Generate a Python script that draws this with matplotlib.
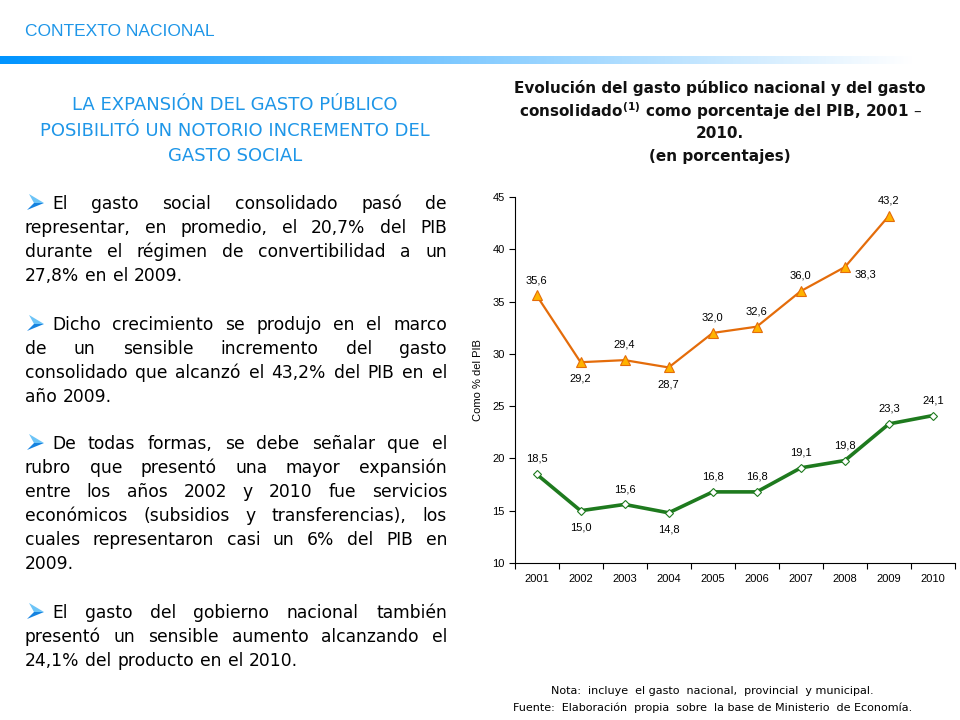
import matplotlib
matplotlib.use("Agg")
import matplotlib.pyplot as plt
from matplotlib.patches import Polygon
import numpy as np

# datos
years = ["2001", "2002", "2003", "2004", "2005", "2006", "2007", "2008", "2009", "2010"]
consolidado = [35.6, 29.2, 29.4, 28.7, 32.0, 32.6, 36.0, 38.3, 43.2]
nacional = [18.5, 15.0, 15.6, 14.8, 16.8, 16.8, 19.1, 19.8, 23.3, 24.1]
yticks = [10, 15, 20, 25, 30, 35, 40, 45]

# donde va cada etiqueta
pos_cons = ["up", "down", "up", "down", "up", "up", "up", "right", "up"]
pos_nac = ["up", "down", "up", "down", "up", "up", "up", "up", "up", "up"]

titulo = ["LA EXPANSIÓN DEL GASTO PÚBLICO",
          "POSIBILITÓ UN NOTORIO INCREMENTO DEL",
          "GASTO SOCIAL"]

parrafos = [
    ["El gasto social consolidado pasó de",
     "representar, en promedio, el 20,7% del PIB",
     "durante el régimen de convertibilidad a un",
     "27,8% en el 2009."],
    ["Dicho crecimiento se produjo en el marco",
     "de un sensible incremento del gasto",
     "consolidado que alcanzó el 43,2% del PIB en el",
     "año 2009."],
    ["De todas formas, se debe señalar que el",
     "rubro que presentó una mayor expansión",
     "entre los años 2002 y 2010 fue servicios",
     "económicos (subsidios y transferencias), los",
     "cuales representaron casi un 6% del PIB en",
     "2009."],
    ["El gasto del gobierno nacional también",
     "presentó un sensible aumento alcanzando el",
     "24,1% del producto en el 2010."],
]
y_parrafos = [204, 325, 444, 613]

W, H = 960, 720
fuente = ["DejaVu Sans"]
azul = "#1E96E8"

fig = plt.figure(figsize=(9.6, 7.2), dpi=100)

def fx(x):
    return x / W

def fy(y):
    return 1 - y / H

def pt(x, y):
    return (fx(x), fy(y))

# encabezado
fig.text(fx(25), fy(32), "CONTEXTO NACIONAL", color=azul, fontsize=12.5,
         family=["Liberation Sans"], va="center", ha="left")

# barra degradada
axbar = fig.add_axes([0, fy(64), 1, 8 / H])
t = np.clip(np.linspace(0, 1, 960) / 0.95, 0, 1)
c0 = np.array([0.0, 0.58, 1.0])
grad = c0[None, :] * (1 - t[:, None]) + t[:, None]
axbar.imshow(grad[None, :, :], aspect="auto", extent=[0, 1, 0, 1])
axbar.axis("off")

# titulo izquierdo
for i, linea in enumerate(titulo):
    fig.text(fx(235), fy(105 + i * 25.5), linea, color=azul, fontsize=13,
             family=fuente, ha="center", va="center")

# texto justificado
renderer = fig.canvas.get_renderer()
x_izq, x_der, paso = 25, 447, 24
for par, y0 in zip(parrafos, y_parrafos):
    # flecha (vineta)
    yc = y0 - 1
    fig.patches.append(Polygon([pt(29, yc - 9), pt(44, yc), pt(34, yc)],
                               closed=True, transform=fig.transFigure,
                               facecolor="#6CC4F7", edgecolor="none"))
    fig.patches.append(Polygon([pt(34, yc), pt(44, yc), pt(27, yc + 7)],
                               closed=True, transform=fig.transFigure,
                               facecolor="#1683E0", edgecolor="none"))
    for j, linea in enumerate(par):
        y = y0 + j * paso
        x_ini = 52 if j == 0 else x_izq
        palabras = linea.split()
        textos = [fig.text(0, fy(y), p, fontsize=12.3, family=fuente, va="center",
                           ha="left", color="black") for p in palabras]
        anchos = [tx.get_window_extent(renderer).width for tx in textos]
        if j == len(par) - 1:
            esp = 6
        else:
            esp = (x_der - x_ini - sum(anchos)) / (len(palabras) - 1)
        x = x_ini
        for tx, a in zip(textos, anchos):
            tx.set_x(fx(x))
            x += a + esp

# titulo del grafico
tit_lineas = ["Evolución del gasto público nacional y del gasto",
              r"consolidado$^{\mathregular{(1)}}$ como porcentaje del PIB, 2001 –",
              "2010.",
              "(en porcentajes)"]
for i, linea in enumerate(tit_lineas):
    fig.text(fx(720), fy(88 + i * 22.7), linea, fontsize=11, weight="bold",
             family=fuente, ha="center", va="center", color="#111111")

# grafico
ax = fig.add_axes([fx(514.5), fy(563), (955 - 514.5) / W, (563 - 197) / H])
x = np.arange(len(years))
ax.plot(x[:len(consolidado)], consolidado, color="#E46C0A", lw=1.6, marker="^",
        ms=6.5, mfc="#FFB300", mec="#E46C0A", mew=0.8, zorder=3)
ax.plot(x, nacional, color="#1E7A1E", lw=2.6, marker="D", ms=4.5,
        mfc="white", mec="#1E7A1E", mew=0.8, zorder=3)

def etiquetas(vals, pos):
    for i, (v, p) in enumerate(zip(vals, pos)):
        txt = f"{v:.1f}".replace(".", ",")
        off = {"up": (0, 11), "down": (0, -12), "right": (15, -5)}[p]
        ax.annotate(txt, (i, v), xytext=off, textcoords="offset points",
                    ha="center", va="center", fontsize=8, family=["Liberation Sans"])

etiquetas(consolidado, pos_cons)
etiquetas(nacional, pos_nac)

ax.set_xlim(-0.5, len(years) - 0.5)
ax.set_ylim(10, 45)
ax.set_yticks(yticks)
ax.set_xticks(x)
ax.set_xticklabels(years)
ax.set_xticks(np.arange(-0.5, len(years)), minor=True)
ax.tick_params(axis="x", which="major", length=0, pad=8, labelsize=8)
ax.tick_params(axis="x", which="minor", length=4, width=0.8, direction="out")
ax.tick_params(axis="y", length=4, width=0.8, pad=3, labelsize=8)
for lab in ax.get_xticklabels() + ax.get_yticklabels():
    lab.set_family("Liberation Sans")
ax.spines["top"].set_visible(False)
ax.spines["right"].set_visible(False)
ax.spines["left"].set_linewidth(0.8)
ax.spines["bottom"].set_linewidth(0.8)
ax.set_ylabel("Como % del PIB", fontsize=8, family="Liberation Sans")
ax.yaxis.set_label_coords(-(514.5 - 483) / 440.5, 0.5)

# notas
fig.text(fx(712), fy(691), "Nota:  incluye  el gasto  nacional,  provincial  y municipal.",
         fontsize=8, family=fuente, ha="center", va="center")
fig.text(fx(713), fy(708), "Fuente:  Elaboración  propia  sobre  la base de Ministerio  de Economía.",
         fontsize=8, family=fuente, ha="center", va="center")

fig.savefig("out.png", dpi=100)
